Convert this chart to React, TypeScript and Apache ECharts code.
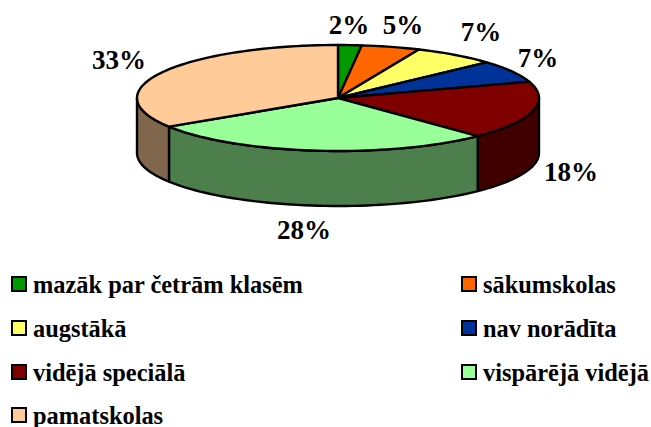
import React, { useEffect, useRef } from "react";
import * as echarts from "echarts";

const categories = [
  "mazāk par četrām klasēm",
  "sākumskolas",
  "augstākā",
  "nav norādīta",
  "vidējā speciālā",
  "vispārējā vidējā",
  "pamatskolas",
];
const values = [2, 5, 7, 7, 18, 28, 33];
const colors = ["#009900", "#FF6600", "#FFFF66", "#003399", "#800000", "#99FF99", "#FFCC99"];

// Layout only
const W = 651, H = 427;
const CX = 338, CY = 98, RX = 201, RY = 53, DEPTH = 55;
const SERIF = "'Liberation Serif', serif";
const labelCenters = [[349, 25], [403, 25], [481, 32], [538, 58], [571, 172], [304, 230], [119, 60]];
const legendSpots = [[11, 272], [461, 272], [11, 316], [461, 316], [11, 360], [461, 360], [11, 403]];

const total = values.reduce((a, b) => a + b, 0);
const rad = (deg: number) => (deg * Math.PI) / 180;
// the 3D view's perspective foreshortens angles a little
const shown = (deg: number) =>
  deg - 2.7 * (1 - Math.cos(rad(deg))) - Math.sin(rad(deg)) - Math.sin(rad(2 * deg));
const pt = (deg: number, dy = 0): [number, number] => [
  CX + RX * Math.sin(rad(deg)),
  CY - RY * Math.cos(rad(deg)) + dy,
];
const arc = (a: number, b: number, dy = 0) => {
  const n = Math.max(2, Math.ceil(Math.abs(b - a) / 2));
  const out: [number, number][] = [];
  for (let i = 0; i <= n; i++) out.push(pt(a + ((b - a) * i) / n, dy));
  return out;
};
const darken = (hex: string) => {
  const n = parseInt(hex.slice(1), 16);
  return `rgb(${(n >> 16) >> 1},${((n >> 8) & 255) >> 1},${(n & 255) >> 1})`;
};

export default function App() {
  const ref = useRef<HTMLDivElement>(null);
  useEffect(() => {
    const chart = echarts.init(ref.current!, undefined, { renderer: "svg" });
    const stroke = { stroke: "#000", lineWidth: 2.4, lineJoin: "round" };
    const series = categories.map((name, idx) => {
      const before = values.slice(0, idx).reduce((a, b) => a + b, 0);
      return {
        type: "custom",
        name,
        coordinateSystem: "none",
        itemStyle: { color: colors[idx] },
        data: [[values[idx]]],
        renderItem: (_p: any, api: any) => {
          const v = api.value(0) as number;
          const a = shown((before / total) * 360);
          const b = shown(((before + v) / total) * 360);
          const children: any[] = [];
          const sa = Math.max(a, 90);
          const sb = Math.min(b, 270);
          if (sb > sa) {
            children.push({
              type: "polygon",
              z2: 1,
              shape: { points: [...arc(sa, sb), ...arc(sb, sa, DEPTH)] },
              style: { fill: darken(colors[idx]), ...stroke },
            });
          }
          children.push({
            type: "polygon",
            z2: 2,
            shape: { points: [[CX, CY], ...arc(a, b)] },
            style: { fill: colors[idx], ...stroke },
          });
          children.push({
            type: "text",
            z2: 3,
            x: labelCenters[idx][0],
            y: labelCenters[idx][1],
            style: {
              text: `${v}%`,
              fontFamily: SERIF,
              fontWeight: "bold",
              fontSize: 27,
              fill: "#000",
              align: "center",
              verticalAlign: "middle",
            },
          });
          return { type: "group", children };
        },
      };
    });
    chart.setOption({
      animation: false,
      backgroundColor: "#fff",
      legend: categories.map((name, idx) => ({
        data: [name],
        left: legendSpots[idx][0],
        top: legendSpots[idx][1],
        padding: 0,
        itemWidth: 14,
        itemHeight: 14,
        itemGap: 0,
        icon: "rect",
        selectedMode: false,
        itemStyle: { borderColor: "#000", borderWidth: 2 },
        textStyle: {
          fontFamily: SERIF,
          fontWeight: "bold",
          fontSize: 24.4,
          color: "#000",
          padding: [0, 0, 0, 2],
        },
      })),
      series,
    });
    return () => chart.dispose();
  }, []);
  return <div ref={ref} style={{ position: "fixed", left: 0, top: 0, width: W, height: H }} />;
}
